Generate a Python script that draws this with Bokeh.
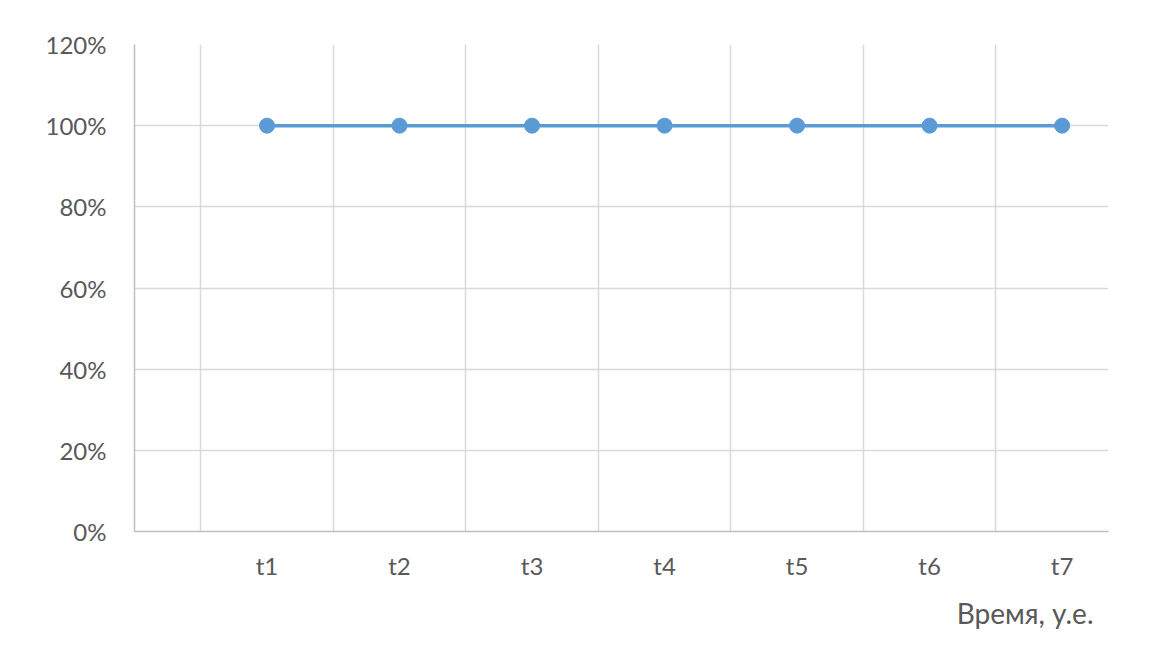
from bokeh.plotting import figure
from bokeh.models import FixedTicker, NumeralTickFormatter, Range1d, Title, ColumnDataSource
from bokeh.embed import file_html
from bokeh.resources import INLINE

categories = ["t1", "t2", "t3", "t4", "t5", "t6", "t7"]
values = [1.0, 1.0, 1.0, 1.0, 1.0, 1.0, 1.0]
y_ticks = [0, 0.2, 0.4, 0.6, 0.8, 1.0, 1.2]
x_title = "Время, у.е."

xs = list(range(1, len(categories) + 1))
src = ColumnDataSource(dict(x=xs, y=values, cat=categories))

FONT = "Lato"
TXT = "#595959"
GRID = "#d9d9d9"

p = figure(width=1150, height=640, output_backend="svg", toolbar_location=None,
           x_range=Range1d(0, 7.35), y_range=Range1d(0, 1.2),
           min_border_left=134, min_border_right=42, min_border_top=44, min_border_bottom=108)
p.outline_line_color = None
p.background_fill_color = "white"
p.border_fill_color = "white"

p.xaxis.ticker = FixedTicker(ticks=xs)
p.xaxis.major_label_overrides = {x: c for x, c in zip(xs, categories)}
p.yaxis.ticker = FixedTicker(ticks=y_ticks)
p.yaxis.formatter = NumeralTickFormatter(format="0%")

for ax in (p.xaxis[0], p.yaxis[0]):
    ax.axis_line_color = "#bfbfbf"
    ax.axis_line_width = 1.5
    ax.major_tick_line_color = None
    ax.minor_tick_line_color = None
    ax.major_label_text_font = FONT
    ax.major_label_text_font_size = "24px"
    ax.major_label_text_color = TXT
p.xaxis.major_label_standoff = 13
p.yaxis.major_label_standoff = 22

p.xgrid.ticker = FixedTicker(ticks=[0.5 + i for i in range(len(categories))])
p.xgrid.grid_line_color = GRID
p.xgrid.grid_line_width = 1.5
p.ygrid.grid_line_color = GRID
p.ygrid.grid_line_width = 1.5

p.line("x", "y", source=src, line_color="#5B9BD5", line_width=3.5)
p.scatter("x", "y", source=src, size=15, fill_color="#5B9BD5", line_color="#5B9BD5")

t = Title(text=x_title, align="right", offset=15, standoff=22,
          text_font=FONT, text_font_size="28px", text_font_style="normal", text_color=TXT)
p.add_layout(t, "below")

open("out.html", "w").write(file_html(p, INLINE))
